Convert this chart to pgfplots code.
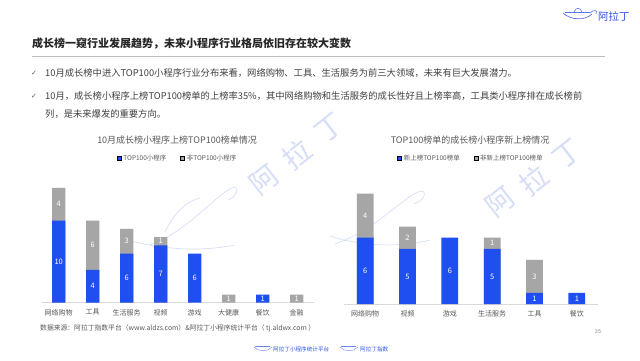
\documentclass[border=0pt]{standalone}
\usepackage{pgfplots}
\pgfplotsset{compat=1.18}
\usepackage{fontspec}
\setmainfont{Noto Sans CJK SC}
\newfontfamily\dejavu{DejaVu Sans}
\definecolor{myblue}{HTML}{1F4FF0}
\definecolor{mygray}{HTML}{A6A6A6}
\definecolor{txt}{HTML}{595959}
\definecolor{body}{HTML}{404040}
\definecolor{logo}{HTML}{2F54EB}
\definecolor{wm}{HTML}{B4C2F2}
\newcommand{\fs}[1]{\fontsize{#1}{#1}\selectfont}
\begin{document}
\begin{tikzpicture}
\begin{scope}[x=1pt,y=-1pt]
\path[fill=white] (0,0) rectangle (640,360);
% watermarks
\tikzset{wmc/.style={rotate=38, text=wm, opacity=0.55, font=\fs{28}, inner sep=0pt}}
\node[wmc] at (264,180) {阿};
\node[wmc] at (297,154) {拉};
\node[wmc] at (330,128) {丁};
\node[wmc] at (500,202) {阿};
\node[wmc] at (534,180) {拉};
\node[wmc] at (568,154) {丁};
\draw[wm, opacity=0.6, line width=0.6pt] (150,245) .. controls (190,230) and (215,195) .. (232,188) .. controls (240,185) and (238,196) .. (228,200);
\draw[wm, opacity=0.6, line width=0.6pt] (120,238) .. controls (160,250) and (200,252) .. (235,245);
\draw[wm, opacity=0.6, line width=0.6pt] (165,232) .. controls (175,210) and (190,200) .. (200,198);
\draw[wm, opacity=0.6, line width=0.6pt] (335,244) .. controls (375,230) and (400,200) .. (418,192) .. controls (428,188) and (426,200) .. (414,204);
\draw[wm, opacity=0.6, line width=0.6pt] (330,236) .. controls (360,246) and (400,248) .. (430,240);
% logo top right
\draw[logo!80, line width=0.7pt] (563,13) .. controls (570,20) and (585,21) .. (592,14);
\draw[logo!80, line width=0.6pt] (565,12) -- (590,12);
\draw[logo!80, line width=0.6pt] (574,12) .. controls (576,7) and (580,7) .. (582,12);
\draw[logo!80, line width=0.6pt] (590,13) .. controls (594,9) and (598,10) .. (596,14);
\node[anchor=west, text=logo, font=\fs{10.5}, inner sep=0pt] at (598,16) {阿拉丁};
% title
\node[anchor=west, inner sep=0pt, text=black!85, font=\fs{11}\bfseries] at (32,44) {成长榜一窥行业发展趋势，未来小程序行业格局依旧存在较大变数};
\draw[black!25, line width=0.8pt] (32,56) -- (605,56);
% bullets
\node[anchor=west, inner sep=0pt, text=txt, font=\dejavu\fs{7}] at (31,73) {✓};
\node[anchor=west, inner sep=0pt, text=txt, font=\dejavu\fs{7}] at (31,96) {✓};
\node[anchor=west, inner sep=0pt, text=body, font=\fs{9.3}] at (45,73) {10月成长榜中进入TOP100小程序行业分布来看，网络购物、工具、生活服务为前三大领域，未来有巨大发展潜力。};
\node[anchor=west, inner sep=0pt, text=body, font=\fs{9.3}] at (45,96) {10月，成长榜小程序上榜TOP100榜单的上榜率35\%，其中网络购物和生活服务的成长性好且上榜率高，工具类小程序排在成长榜前};
\node[anchor=west, inner sep=0pt, text=body, font=\fs{9.3}] at (45,114) {列，是未来爆发的重要方向。};
% chart titles
\node[text=txt, font=\fs{9}, inner sep=0pt] at (177,140) {10月成长榜小程序上榜TOP100榜单情况};
\node[text=txt, font=\fs{9}, inner sep=0pt] at (470,140) {TOP100榜单的成长榜小程序新上榜情况};
% source
\node[anchor=west, text=txt, font=\fs{6.8}, inner sep=0pt] at (40,328) {数据来源：阿拉丁指数平台（www.aldzs.com）\&阿拉丁小程序统计平台（ tj.aldwx.com ）};
\node[text=black!45, font=\fs{5.5}, inner sep=0pt] at (598,332) {35};
% bottom logos
\draw[logo!70, line width=0.4pt] (254,347) .. controls (258,352) and (268,352) .. (272,347);
\draw[logo!70, line width=0.4pt] (255,346) -- (270,346);
\node[anchor=west, text=logo, font=\fs{5.6}, inner sep=0pt] at (273,349) {阿拉丁小程序统计平台};
\draw[logo!70, line width=0.4pt] (340,347) .. controls (344,352) and (354,352) .. (358,347);
\draw[logo!70, line width=0.4pt] (341,346) -- (356,346);
\node[anchor=west, text=logo, font=\fs{5.6}, inner sep=0pt] at (360,349) {阿拉丁指数};
\end{scope}

\pgfplotsset{
  mybars/.style={
    scale only axis,
    ymin=0,
    axis x line=bottom, axis y line=none,
    x axis line style={-, draw=black!15, line width=0.8pt},
    xtick style={draw=none}, major tick length=0pt,
    ytick=\empty,
    xticklabel style={font=\fs{7}, text=txt, yshift=-3pt},
    clip=false,
    legend style={draw=none, fill=none, font=\fs{6.5}, text=txt,
      legend columns=2, /tikz/every even column/.append style={column sep=12pt}},
    legend image code/.code={\fill[##1] (0pt,-2pt) rectangle (4pt,2pt);},
  },
  lab/.style={forget plot, draw=none, mark=none, nodes near coords, point meta=explicit symbolic,
    every node near coord/.append style={anchor=center, text=white, font=\fs{7.5}}},
}

% chart 1
\begin{axis}[mybars,
  at={(41.7pt,-302.7pt)}, anchor=south west,
  width=272pt, height=131.2pt,
  xmin=-0.5, xmax=7.5, ymax=16,
  xtick={0,...,7},
  xticklabels={网络购物,工具,生活服务,视频,游戏,大健康,餐饮,金融},
  legend style={at={(0.5,1)}, anchor=center, yshift=13.5pt},
]
\addlegendimage{fill=myblue}
\addlegendentry{TOP100小程序}
\addlegendimage{fill=mygray}
\addlegendentry{非TOP100小程序}
% total heights (blue + gray)
\addplot[forget plot, ybar, bar width=13.3pt, bar shift=0pt, fill=mygray, draw=none]
  coordinates {(0,14) (1,10) (2,9) (3,8) (5,1) (7,1)};
% TOP100
\addplot[forget plot, ybar, bar width=13.3pt, bar shift=0pt, fill=myblue, draw=none]
  coordinates {(0,10) (1,4) (2,6) (3,7) (4,6) (6,1)};
\addplot[lab] coordinates {
  (0,5)[10] (0,12)[4] (1,2)[4] (1,7)[6] (2,3)[6] (2,7.5)[3]
  (3,3.5)[7] (3,7.5)[1] (4,3)[6] (5,0.5)[1] (6,0.5)[1] (7,0.5)[1]};
\end{axis}

% chart 2
\begin{axis}[mybars,
  at={(344pt,-304pt)}, anchor=south west,
  width=254pt, height=110.5pt,
  xmin=-0.5, xmax=5.5, ymax=10,
  xtick={0,...,5},
  xticklabels={网络购物,视频,游戏,生活服务,工具,餐饮},
  legend style={at={(0.5,1)}, anchor=center, yshift=35.5pt},
]
\addlegendimage{fill=myblue}
\addlegendentry{新上榜TOP100榜单}
\addlegendimage{fill=mygray}
\addlegendentry{非新上榜TOP100榜单}
\addplot[forget plot, ybar, bar width=16.7pt, bar shift=0pt, fill=mygray, draw=none]
  coordinates {(0,10) (1,7) (3,6) (4,4)};
\addplot[forget plot, ybar, bar width=16.7pt, bar shift=0pt, fill=myblue, draw=none]
  coordinates {(0,6) (1,5) (2,6) (3,5) (4,1) (5,1)};
\addplot[lab] coordinates {
  (0,3)[6] (0,8)[4] (1,2.5)[5] (1,6)[2] (2,3)[6] (3,2.5)[5] (3,5.5)[1]
  (4,0.5)[1] (4,2.5)[3] (5,0.5)[1]};
\end{axis}
\end{tikzpicture}
\end{document}
